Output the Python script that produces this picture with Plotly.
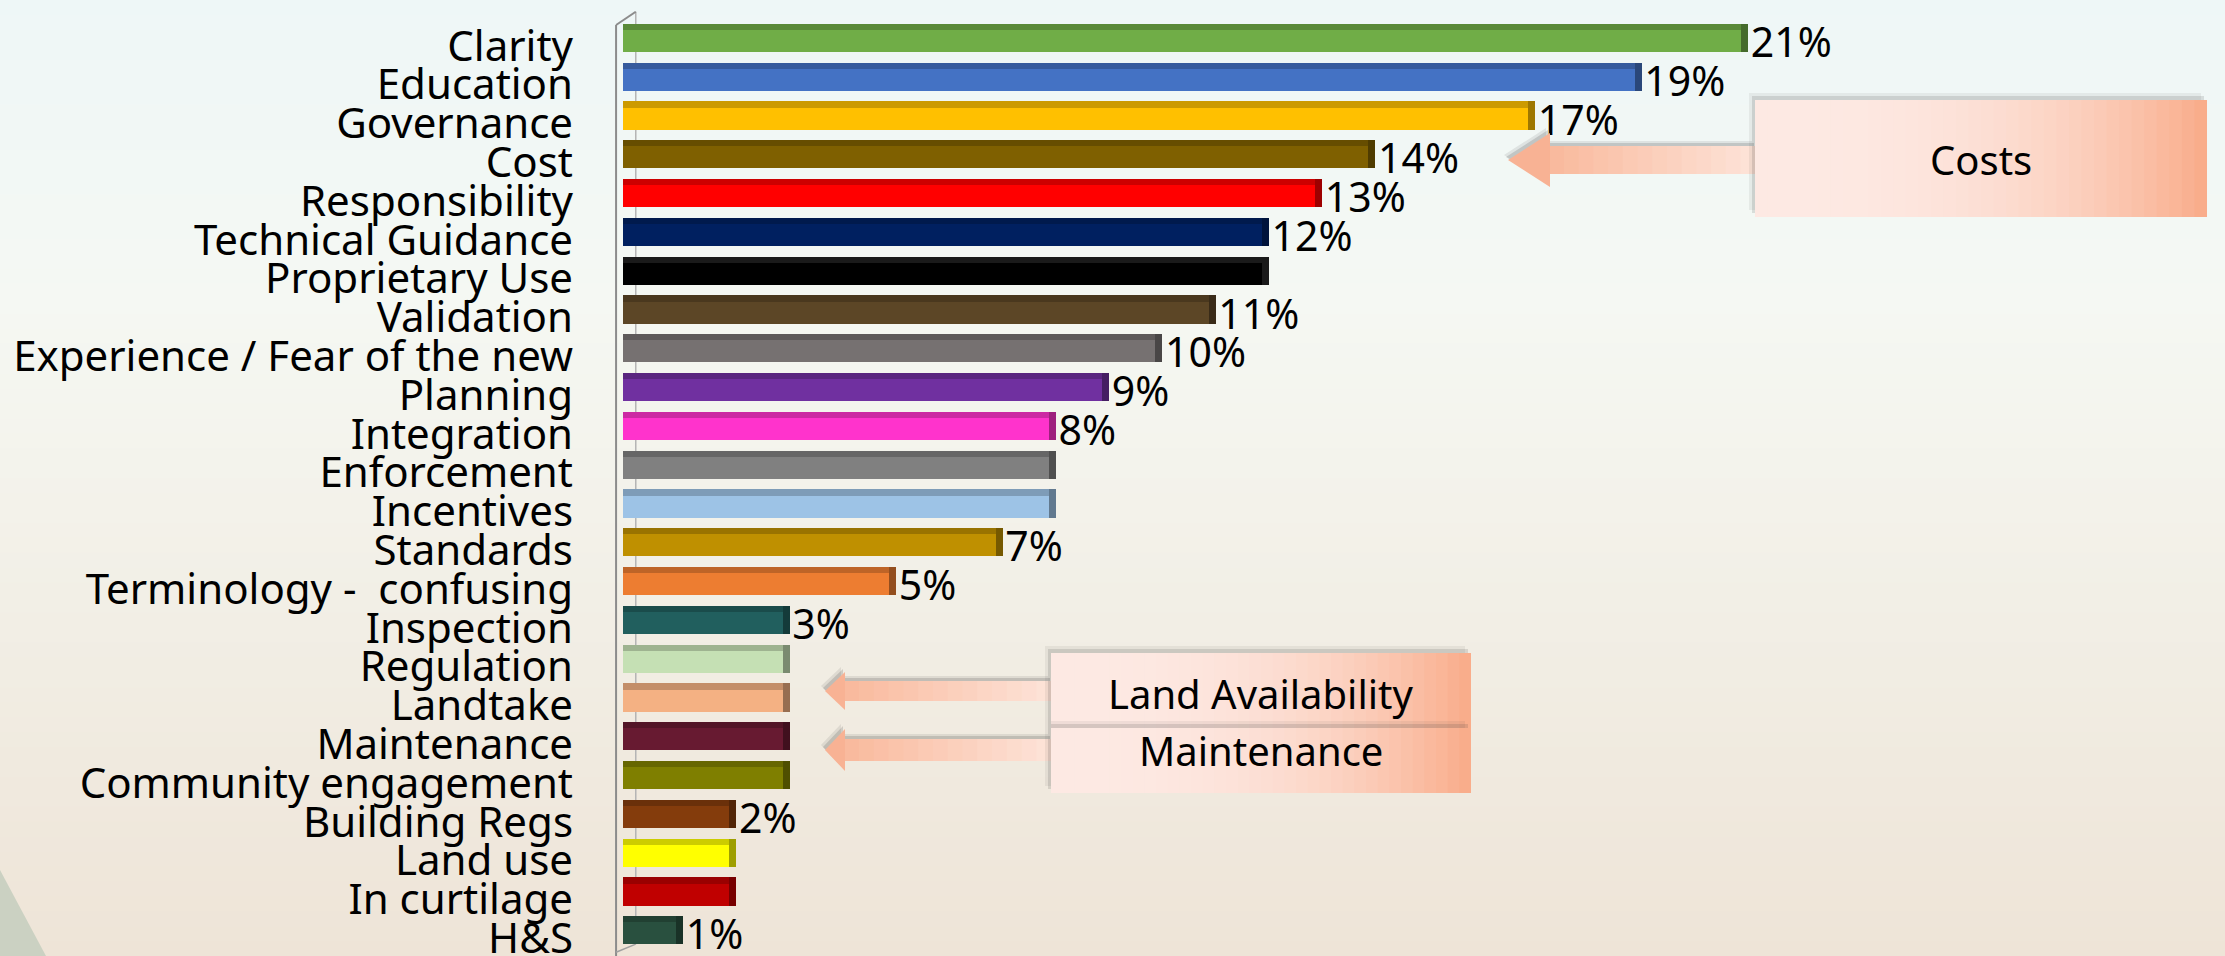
import plotly.graph_objects as go

# ---------------- data ----------------
categories = [
    "Clarity", "Education", "Governance", "Cost", "Responsibility",
    "Technical Guidance", "Proprietary Use", "Validation",
    "Experience / Fear of the new", "Planning", "Integration", "Enforcement",
    "Incentives", "Standards", "Terminology -\u00a0 confusing", "Inspection",
    "Regulation", "Landtake", "Maintenance", "Community engagement",
    "Building Regs", "Land use", "In curtilage", "H&S",
]
values = [21, 19, 17, 14, 13, 12, 12, 11, 10, 9, 8, 8, 8, 7, 5, 3, 3, 3, 3, 3, 2, 2, 2, 1]
bar_colors = [
    "#70ad47", "#4472c4", "#ffc000", "#7f6000", "#ff0000", "#002060", "#000000",
    "#5c4626", "#767171", "#7030a0", "#ff33cc", "#808080", "#9dc3e6", "#bf9000",
    "#ed7d31", "#215f5e", "#c5e0b4", "#f4b183", "#671a31", "#7f7f00", "#843c0c",
    "#ffff00", "#c00000", "#29503f",
]
value_labels = ["21%", "19%", "17%", "14%", "13%", "12%", "", "11%", "10%", "9%", "8%", "", "",
                "7%", "5%", "3%", "", "", "", "", "2%", "", "", "1%"]
callouts = ["Costs", "Land Availability", "Maintenance"]

# ---------------- layout geometry ----------------
W, H = 2225, 956
ML, MR, MT, MB = 610, 0, 11, 0
X_RANGE = [-0.244, 30.085]
Y_RANGE = [23.456, -0.9]
FONT = "Noto Sans, Open Sans, DejaVu Sans, sans-serif"
DEPTH = 0.13
LABEL_GAP = 0.05


def hex2rgb(h):
    h = h.lstrip("#")
    return tuple(int(h[i:i + 2], 16) for i in (0, 2, 4))


def rgb2hex(c):
    return "#%02x%02x%02x" % tuple(max(0, min(255, int(round(v)))) for v in c)


def mix(c1, c2, t):
    a, b = hex2rgb(c1), hex2rgb(c2)
    return rgb2hex([a[i] + (b[i] - a[i]) * t for i in range(3)])


def shade(c, f):
    r = hex2rgb(c)
    if c.lower() == "#000000":
        return "#1a1a1a"
    return rgb2hex([v * f for v in r])


def px(xp):
    return (xp - ML) / (W - ML - MR)


def py(yp):
    return 1 - (yp - MT) / (H - MT - MB)


def poly(points):
    return "M " + " L ".join("%.5f,%.5f" % (px(a), py(b)) for a, b in points) + " Z"


idx = list(range(len(categories)))

fig = go.Figure()

# top face of the 3D bars
fig.add_trace(go.Bar(
    y=idx, x=values, base=0, orientation="h", offset=-0.57, width=0.165,
    marker=dict(color=[shade(c, 0.80) for c in bar_colors], line=dict(width=0)),
    hoverinfo="skip", showlegend=False,
))
# right face of the 3D bars
fig.add_trace(go.Bar(
    y=idx, x=[DEPTH] * len(values), base=values, orientation="h", offset=-0.57, width=0.725,
    marker=dict(color=[shade(c, 0.62) for c in bar_colors], line=dict(width=0)),
    hoverinfo="skip", showlegend=False,
))
# front face
fig.add_trace(go.Bar(
    y=idx, x=values, orientation="h", offset=-0.41, width=0.565,
    marker=dict(color=bar_colors, line=dict(width=0)),
    showlegend=False,
))
# value labels
fig.add_trace(go.Scatter(
    y=[i + 0.02 for i in idx], x=[v + DEPTH + LABEL_GAP for v in values], mode="text",
    text=value_labels, textposition="middle right",
    textfont=dict(family=FONT, size=41, color="#000000"),
    hoverinfo="skip", showlegend=False, cliponaxis=False,
))

shapes = []

# background gradient (vertical)
stops = [(0, "#eef7f7"), (300, "#f5f8f3"), (600, "#f2efe6"), (956, "#eee4d7")]
NB = 64
for k in range(NB):
    y0p = k * H / NB
    y1p = (k + 1) * H / NB + 1
    ym = (y0p + y1p) / 2
    for j in range(len(stops) - 1):
        if stops[j][0] <= ym <= stops[j + 1][0]:
            t = (ym - stops[j][0]) / (stops[j + 1][0] - stops[j][0])
            col = mix(stops[j][1], stops[j + 1][1], t)
            break
    else:
        col = stops[-1][1]
    shapes.append(dict(type="rect", xref="paper", yref="paper", layer="below",
                       x0=px(0), x1=px(W), y0=py(y1p), y1=py(y0p),
                       fillcolor=col, line=dict(width=0)))

# bottom-left swoosh
shapes.append(dict(type="path", xref="paper", yref="paper", layer="below",
                   path=poly([(0, 870), (46, 956), (0, 956)]),
                   fillcolor="#cbd1c2", line=dict(width=0)))

# chart wall lines
wall = dict(xref="x", yref="y", layer="below")
shapes.append(dict(type="line", x0=0.24, x1=0.24, y0=-0.88, y1=23.15,
                   line=dict(color="#b4b4b4", width=1.5), **wall))
shapes.append(dict(type="line", x0=-0.13, x1=-0.13, y0=-0.54, y1=23.5,
                   line=dict(color="#8c8c8c", width=2), **wall))
shapes.append(dict(type="line", x0=-0.13, x1=0.24, y0=-0.54, y1=-0.88,
                   line=dict(color="#8c8c8c", width=2), **wall))
shapes.append(dict(type="line", x0=-0.13, x1=0.24, y0=23.36, y1=23.15,
                   line=dict(color="#a0a0a0", width=1.5), **wall))


def shadow(points, dx, dy, alpha):
    shapes.append(dict(type="path", xref="paper", yref="paper", layer="above",
                       path=poly([(a + dx, b + dy) for a, b in points]),
                       fillcolor="rgba(60,60,60,%.2f)" % alpha, line=dict(width=0)))


def gradient_box(x0, x1, y0, y1, light="#fde9e3", dark="#f9ab88", n=36):
    pts = [(x0, y0), (x1, y0), (x1, y1), (x0, y1)]
    shadow(pts, -6, -7, 0.07)
    shadow(pts, -3, -4, 0.14)
    for k in range(n):
        a = x0 + (x1 - x0) * k / n
        b = x0 + (x1 - x0) * (k + 1) / n + 0.8
        t = ((k + 0.5) / n) ** 2.6
        shapes.append(dict(type="rect", xref="paper", yref="paper", layer="above",
                           x0=px(a), x1=px(min(b, x1)), y0=py(y1), y1=py(y0),
                           fillcolor=mix(light, dark, t), line=dict(width=0)))


def arrow(tip_x, cy, head_len, head_half, shaft_half, end_x, n=14):
    hx = tip_x + head_len
    outline = [(tip_x, cy), (hx, cy - head_half), (hx, cy - shaft_half), (end_x, cy - shaft_half),
               (end_x, cy + shaft_half), (hx, cy + shaft_half), (hx, cy + head_half)]
    shadow(outline, -4, -5, 0.10)
    shadow(outline, -2, -3, 0.18)
    for k in range(n):
        a = hx + (end_x - hx) * k / n - 0.8
        b = hx + (end_x - hx) * (k + 1) / n
        t = (k + 0.5) / n
        shapes.append(dict(type="rect", xref="paper", yref="paper", layer="above",
                           x0=px(a), x1=px(b), y0=py(cy + shaft_half), y1=py(cy - shaft_half),
                           fillcolor=mix("#f9b99c", "#fde3d8", t), line=dict(width=0)))
    shapes.append(dict(type="path", xref="paper", yref="paper", layer="above",
                       path=poly([(tip_x, cy), (hx, cy - head_half), (hx, cy + head_half)]),
                       fillcolor="#f8b294", line=dict(width=0)))


# Costs callout
arrow(1508, 160, 42, 27, 14, 1756)
gradient_box(1755, 2207, 100, 217)
# Land availability / maintenance callouts
arrow(825, 691, 20, 19, 10, 1052)
arrow(825, 750, 20, 21, 11, 1052)
gradient_box(1051, 1471, 653, 728)
gradient_box(1051, 1471, 728, 793)

annotations = []
for text, (cx, cy) in zip(callouts, [(1981, 160), (1261, 693), (1261, 750)]):
    annotations.append(dict(text=text, xref="paper", yref="paper", x=px(cx), y=py(cy),
                            xanchor="center", yanchor="middle", showarrow=False,
                            font=dict(family=FONT, size=40, color="#000000")))

fig.update_layout(
    width=W, height=H,
    margin=dict(l=ML, r=MR, t=MT, b=MB, pad=0, autoexpand=False),
    paper_bgcolor="#f2f2ec", plot_bgcolor="rgba(0,0,0,0)",
    barmode="overlay", bargap=0,
    shapes=shapes, annotations=annotations,
    showlegend=False,
    xaxis=dict(range=X_RANGE, visible=False, showgrid=False, zeroline=False,
               fixedrange=True, automargin=False),
    yaxis=dict(range=Y_RANGE, tickmode="array", tickvals=idx, ticktext=categories,
               showgrid=False, zeroline=False, showline=False, ticks="",
               ticklabelstandoff=36, ticklabeloverflow="allow", automargin=False,
               tickfont=dict(family=FONT, size=42, color="#000000"), fixedrange=True),
)

fig.write_html(
    "out.html",
    config={"displayModeBar": False},
    post_script="document.body.style.margin='0';document.body.style.overflow='hidden';",
)
